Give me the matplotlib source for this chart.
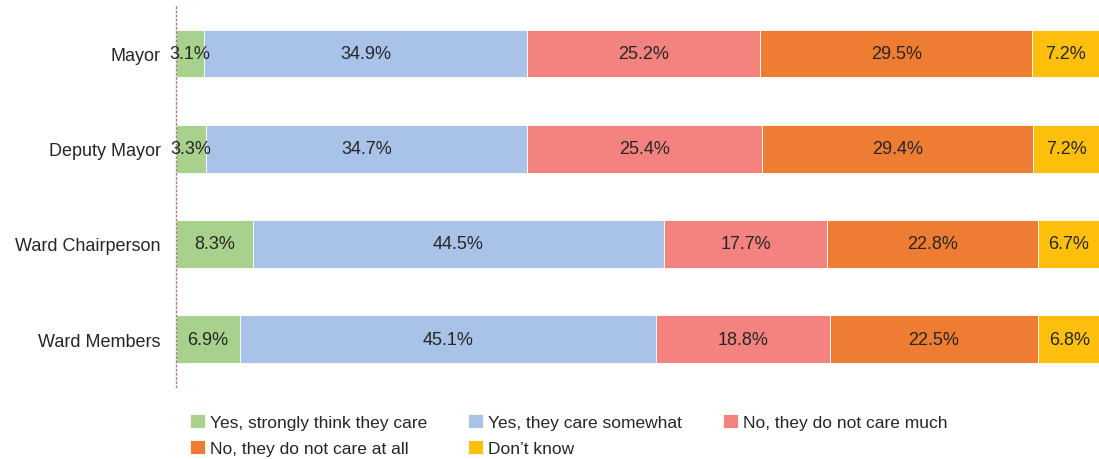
import numpy as np
import matplotlib
matplotlib.use('Agg')
import matplotlib.pyplot as plt

# Datos del gráfico
categorias = ["Mayor", "Deputy Mayor", "Ward Chairperson", "Ward Members"]
series = [
    "Yes, strongly think they care",
    "Yes, they care somewhat",
    "No, they do not care much",
    "No, they do not care at all",
    "Don\u2019t know",
]
strongly = [3.1, 3.3, 8.3, 6.9]
somewhat = [34.9, 34.7, 44.5, 45.1]
not_much = [25.2, 25.4, 17.7, 18.8]
not_at_all = [29.5, 29.4, 22.8, 22.5]
dont_know = [7.2, 7.2, 6.7, 6.8]

colores = ["#A9D18E", "#A9C3E8", "#F4827E", "#EE7D33", "#FFC00D"]

plt.rcParams['font.family'] = ['Liberation Sans', 'DejaVu Sans']

fig = plt.figure(figsize=(10.99, 4.6), dpi=100)
ax = fig.add_axes([0.160, 0.157, 0.840, 0.828])

valores = [strongly, somewhat, not_much, not_at_all, dont_know]
y = np.arange(len(categorias))
izquierda = np.zeros(len(categorias))
handles = []
for nombre, vals, color in zip(series, valores, colores):
    vals = np.array(vals)
    barras = ax.barh(y, vals, left=izquierda, height=0.5, color=color,
                     edgecolor='white', linewidth=0.6, label=nombre)
    handles.append(barras)
    for yi, l, v in zip(y, izquierda, vals):
        ax.text(l + v / 2, yi, f"{v:.1f}%", ha='center', va='center',
                fontsize=13, color='#262626')
    izquierda += vals

ax.set_xlim(0, 99.9)
ax.set_ylim(3.5, -0.5)
ax.set_yticks(y)
ax.set_yticklabels(categorias, fontsize=13, color='#262626')
ax.tick_params(axis='y', length=0, pad=11)
ax.set_xticks([])
for lado in ['top', 'right', 'bottom']:
    ax.spines[lado].set_visible(False)
ax.spines['left'].set_linestyle((0, (1, 2)))
ax.spines['left'].set_color('#B07A80')
ax.spines['left'].set_linewidth(1.0)

# Leyenda ordenada por filas
orden = [0, 3, 1, 4, 2]
fig.legend([handles[i] for i in orden], [series[i] for i in orden],
           loc='lower left', bbox_to_anchor=(0.159, -0.027), ncol=3,
           frameon=False, fontsize=12.5, handlelength=0.85, handleheight=0.85,
           handletextpad=0.3, columnspacing=2.35, labelspacing=0.55,
           labelcolor='#262626')

fig.savefig("out.png", dpi=100)
